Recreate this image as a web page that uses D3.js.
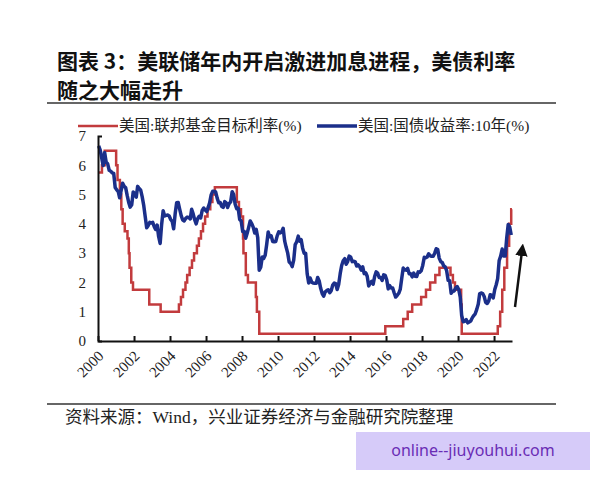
<!DOCTYPE html>
<html>
<head>
<meta charset="utf-8">
<script src="https://cdn.jsdelivr.net/npm/d3@7"></script>
<style>
  body { margin: 0; background: #fff; }
  svg { display: block; }
</style>
</head>
<body>
<svg id="chart" width="600" height="480"></svg>
<script>
// Fed funds target rate (upper bound), change dates and new level
const fedDates = [
    '2000-01-03', '2000-03-21', '2000-05-16', '2001-01-03', '2001-01-31', '2001-03-20',
    '2001-04-18', '2001-05-15', '2001-06-27', '2001-08-21', '2001-09-17', '2001-10-02',
    '2001-11-06', '2001-12-11', '2002-11-06', '2003-06-25', '2004-06-30', '2004-08-10',
    '2004-09-21', '2004-11-10', '2004-12-14', '2005-02-02', '2005-03-22', '2005-05-03',
    '2005-06-30', '2005-08-09', '2005-09-20', '2005-11-01', '2005-12-13', '2006-01-31',
    '2006-03-28', '2006-05-10', '2006-06-29', '2007-09-18', '2007-10-31', '2007-12-11',
    '2008-01-22', '2008-01-30', '2008-03-18', '2008-04-30', '2008-10-08', '2008-10-29',
    '2008-12-16', '2015-12-17', '2016-12-15', '2017-03-16', '2017-06-15', '2017-12-14',
    '2018-03-22', '2018-06-14', '2018-09-27', '2018-12-20', '2019-08-01', '2019-09-19',
    '2019-10-31', '2020-03-04', '2020-03-16', '2022-03-17', '2022-05-05', '2022-06-16',
    '2022-07-28', '2022-09-22', '2022-11-03', '2022-12-15', '2022-12-30'
];
const fedRates = [
    5.75, 6.0, 6.5, 6.0, 5.5, 5.0,
    4.5, 4.0, 3.75, 3.5, 3.0, 2.5,
    2.0, 1.75, 1.25, 1.0, 1.25, 1.5,
    1.75, 2.0, 2.25, 2.5, 2.75, 3.0,
    3.25, 3.5, 3.75, 4.0, 4.25, 4.5,
    4.75, 5.0, 5.25, 4.75, 4.5, 4.25,
    3.5, 3.0, 2.25, 2.0, 1.5, 1.0,
    0.25, 0.5, 0.75, 1.0, 1.25, 1.5,
    1.75, 2.0, 2.25, 2.5, 2.25, 2.0,
    1.75, 1.25, 0.25, 0.5, 1.0, 1.75,
    2.5, 3.25, 4.0, 4.5, 4.5
];

// 10Y treasury yield, monthly, one row per year from 2000
const tsyStartYear = 2000;
const tsy10y = [
    [6.66, 6.52, 6.26, 5.99, 6.44, 6.10, 6.05, 5.83, 5.80, 5.74, 5.72, 5.24],
    [5.16, 5.10, 4.89, 5.14, 5.39, 5.28, 5.24, 4.97, 4.73, 4.57, 4.65, 5.09],
    [5.04, 4.91, 5.28, 5.21, 5.16, 4.93, 4.65, 4.26, 3.87, 3.94, 4.05, 4.03],
    [4.05, 3.90, 3.81, 3.96, 3.57, 3.33, 3.98, 4.45, 4.27, 4.29, 4.30, 4.27],
    [4.15, 4.08, 3.83, 4.35, 4.72, 4.73, 4.50, 4.28, 4.13, 4.10, 4.19, 4.23],
    [4.22, 4.17, 4.50, 4.34, 4.14, 4.00, 4.18, 4.26, 4.20, 4.46, 4.54, 4.47],
    [4.42, 4.57, 4.72, 4.99, 5.11, 5.11, 5.09, 4.88, 4.72, 4.73, 4.60, 4.56],
    [4.76, 4.72, 4.56, 4.69, 4.75, 5.10, 5.00, 4.67, 4.52, 4.53, 4.15, 4.10],
    [3.74, 3.74, 3.51, 3.68, 3.88, 4.10, 4.01, 3.89, 3.69, 3.81, 3.53, 2.42],
    [2.52, 2.87, 2.82, 2.93, 3.29, 3.72, 3.56, 3.59, 3.40, 3.39, 3.40, 3.59],
    [3.73, 3.69, 3.73, 3.85, 3.42, 3.20, 3.01, 2.70, 2.65, 2.54, 2.76, 3.29],
    [3.39, 3.58, 3.41, 3.46, 3.17, 3.00, 3.00, 2.30, 1.98, 2.15, 2.01, 1.98],
    [1.97, 1.97, 2.17, 2.05, 1.80, 1.62, 1.53, 1.68, 1.72, 1.75, 1.65, 1.72],
    [1.91, 1.98, 1.96, 1.76, 1.93, 2.30, 2.58, 2.74, 2.81, 2.62, 2.72, 2.90],
    [2.86, 2.71, 2.72, 2.71, 2.56, 2.60, 2.54, 2.42, 2.53, 2.30, 2.33, 2.21],
    [1.88, 1.98, 2.04, 1.94, 2.20, 2.36, 2.32, 2.17, 2.17, 2.07, 2.26, 2.24],
    [2.09, 1.78, 1.89, 1.81, 1.81, 1.64, 1.50, 1.56, 1.63, 1.76, 2.14, 2.49],
    [2.43, 2.42, 2.48, 2.30, 2.30, 2.19, 2.32, 2.21, 2.20, 2.36, 2.35, 2.40],
    [2.58, 2.86, 2.84, 2.87, 2.98, 2.91, 2.89, 2.89, 3.00, 3.15, 3.12, 2.83],
    [2.71, 2.68, 2.57, 2.53, 2.40, 2.07, 2.06, 1.63, 1.70, 1.71, 1.81, 1.86],
    [1.76, 1.50, 0.87, 0.66, 0.67, 0.73, 0.62, 0.65, 0.68, 0.79, 0.87, 0.93],
    [1.08, 1.26, 1.61, 1.64, 1.62, 1.52, 1.32, 1.28, 1.37, 1.58, 1.56, 1.47],
    [1.76, 1.93, 2.13, 2.75, 2.90, 3.14, 2.90, 2.90, 3.52, 3.98, 3.89, 3.62]
];

const xTickYears = [2000, 2002, 2004, 2006, 2008, 2010, 2012, 2014, 2016, 2018, 2020, 2022];
const yTicks = [0, 1, 2, 3, 4, 5, 6, 7];

const titleLines = ['图表 3：美联储年内开启激进加息进程，美债利率', '随之大幅走升'];
const legendLabels = ['美国:联邦基金目标利率(%)', '美国:国债收益率:10年(%)'];
const sourceText = '资料来源：Wind，兴业证券经济与金融研究院整理';

const red = '#c23b3d';
const blue = '#1b2f8a';
const serif = '"Liberation Serif", "Noto Sans CJK SC", serif';

const svg = d3.select('#chart');

const x = d3.scaleTime()
    .domain([new Date(2000, 0, 1), new Date(2022, 11, 31)])
    .range([98, 512]);
const y = d3.scaleLinear().domain([0, 7]).range([341, 136]);

// title
svg.append('g').selectAll('text')
    .data(titleLines)
    .enter()
    .append('text')
    .attr('x', 57)
    .attr('y', (d, i) => 69 + i * 29)
    .attr('font-family', '"Noto Sans CJK SC", sans-serif')
    .attr('font-weight', 600)
    .attr('font-size', 21)
    .attr('fill', '#111')
    .text(d => d);

svg.append('line').attr('x1', 47).attr('x2', 556).attr('y1', 103).attr('y2', 103)
    .attr('stroke', '#333').attr('stroke-width', 1.5);
svg.append('line').attr('x1', 47).attr('x2', 556).attr('y1', 404).attr('y2', 404)
    .attr('stroke', '#333').attr('stroke-width', 1.5);

svg.append('text')
    .attr('x', 65).attr('y', 423)
    .attr('font-family', serif)
    .attr('font-size', 17.5)
    .attr('fill', '#222')
    .text(sourceText);

// legend
const legend = svg.append('g').attr('font-family', serif).attr('font-size', 15.5).attr('fill', '#222');
[[78, red, 2.5], [317, blue, 3.5]].forEach((l, i) => {
    legend.append('line')
        .attr('x1', l[0]).attr('x2', l[0] + 40)
        .attr('y1', 126).attr('y2', 126)
        .attr('stroke', l[1]).attr('stroke-width', l[2]);
    legend.append('text')
        .attr('x', l[0] + 41).attr('y', 131)
        .text(legendLabels[i]);
});

// series
const tsyData = [];
tsy10y.forEach((row, yi) => {
    row.forEach((v, m) => tsyData.push({date: new Date(tsyStartYear + yi, m, 15), value: v}));
});
const fedData = fedDates.map((d, i) => ({date: new Date(d), value: fedRates[i]}));

svg.append('path')
    .datum(fedData)
    .attr('fill', 'none')
    .attr('stroke', red)
    .attr('stroke-width', 2.5)
    .attr('d', d3.line().curve(d3.curveStepAfter).x(d => x(d.date)).y(d => y(d.value)));

svg.append('path')
    .datum(tsyData)
    .attr('fill', 'none')
    .attr('stroke', blue)
    .attr('stroke-width', 3.5)
    .attr('stroke-linejoin', 'round')
    .attr('d', d3.line().x(d => x(d.date)).y(d => y(d.value)));

// axes
const yAxis = svg.append('g')
    .attr('transform', 'translate(98,0)')
    .call(d3.axisLeft(y).tickValues(yTicks).tickFormat(d3.format('d')).tickSizeInner(0).tickSizeOuter(-4).tickPadding(12));
yAxis.selectAll('text').attr('font-family', serif).attr('font-size', 15).attr('fill', '#222');

const xAxis = svg.append('g')
    .attr('transform', 'translate(0,341)')
    .call(d3.axisBottom(x).tickValues(xTickYears.map(yr => new Date(yr, 0, 1)))
        .tickFormat(d3.timeFormat('%Y')).tickSizeInner(-5).tickSizeOuter(0));
xAxis.selectAll('text')
    .attr('font-family', serif).attr('font-size', 15).attr('fill', '#222')
    .attr('text-anchor', 'end')
    .attr('dy', null).attr('y', 0)
    .attr('transform', 'translate(6,16) rotate(-45)');

svg.selectAll('.domain, .tick line').attr('stroke', '#111').attr('stroke-width', 2);

// arrow
svg.append('defs').append('marker')
    .attr('id', 'head')
    .attr('viewBox', '0 0 10 10')
    .attr('refX', 4).attr('refY', 5)
    .attr('markerWidth', 5).attr('markerHeight', 5)
    .attr('orient', 'auto')
    .append('path').attr('d', 'M0,0 L10,5 L0,10 Z').attr('fill', '#111');
svg.append('line')
    .attr('x1', 515).attr('y1', 307).attr('x2', 522).attr('y2', 251)
    .attr('stroke', '#111').attr('stroke-width', 2.5)
    .attr('marker-end', 'url(#head)');

// watermark
svg.append('rect').attr('x', 356).attr('y', 432).attr('width', 234).attr('height', 38).attr('fill', '#d6cbf9');
svg.append('text')
    .attr('x', 473).attr('y', 456)
    .attr('text-anchor', 'middle')
    .attr('font-family', '"Noto Sans", sans-serif')
    .attr('font-size', 16)
    .attr('fill', '#6a2db5')
    .text('online--jiuyouhui.com');
</script>
</body>
</html>
